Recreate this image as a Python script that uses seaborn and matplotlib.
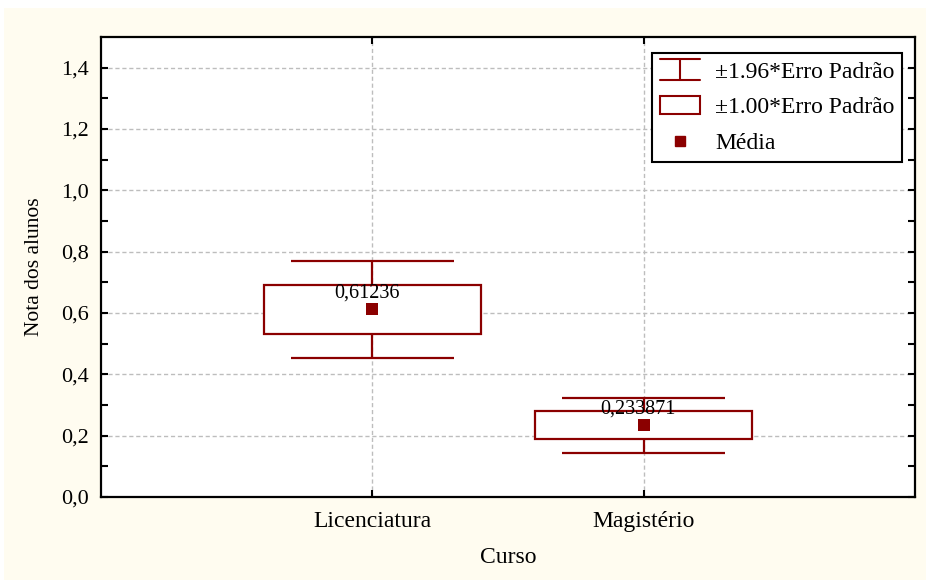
import numpy as np
import pandas as pd
import matplotlib
matplotlib.use("Agg")
import matplotlib.pyplot as plt
from matplotlib.patches import Rectangle
from matplotlib.lines import Line2D
from matplotlib.legend_handler import HandlerBase
import seaborn as sns

# Mean grade per course and its standard error
cursos = ["Licenciatura", "Magistério"]
medias = [0.61236, 0.233871]
erros_padrao = [0.0805, 0.0455]
rotulos_medias = ["0,61236", "0,233871"]
yticks = [0.0, 0.2, 0.4, 0.6, 0.8, 1.0, 1.2, 1.4]
ytick_labels = ["0,0", "0,2", "0,4", "0,6", "0,8", "1,0", "1,2", "1,4"]

df = pd.DataFrame({"Curso": cursos, "Media": medias, "EP": erros_padrao})
df["pos"] = np.arange(len(df))
df["lo1"] = df["Media"] - df["EP"]
df["hi1"] = df["Media"] + df["EP"]
df["lo196"] = df["Media"] - 1.96 * df["EP"]
df["hi196"] = df["Media"] + 1.96 * df["EP"]

RED = "#8B0000"
CREAM = "#FFFCF0"

sns.set_theme(style="white")
plt.rcParams["font.family"] = ["Liberation Serif", "DejaVu Serif"]
plt.rcParams["text.color"] = "black"
plt.rcParams["axes.labelcolor"] = "black"
plt.rcParams["xtick.color"] = "black"
plt.rcParams["ytick.color"] = "black"

fig = plt.figure(figsize=(9.29, 5.83), dpi=100, facecolor="white")
fig.patches.append(Rectangle((4 / 929, 3 / 583), 922 / 929, 572 / 583,
                             transform=fig.transFigure, facecolor=CREAM,
                             edgecolor="none", zorder=-10))
ax = fig.add_axes([101 / 929, 1 - 497 / 583, 814 / 929, 460 / 583])
ax.set_facecolor("white")

# whiskers: +-1.96 SE
ax.vlines(df["pos"], df["lo196"], df["hi196"], color=RED, lw=1.6, zorder=2)
ax.hlines(df["lo196"], df["pos"] - 0.3, df["pos"] + 0.3, color=RED, lw=1.6, zorder=2)
ax.hlines(df["hi196"], df["pos"] - 0.3, df["pos"] + 0.3, color=RED, lw=1.6, zorder=2)

# boxes: +-1.00 SE
ax.bar(df["pos"], 2 * df["EP"], bottom=df["lo1"], width=0.8,
       facecolor="white", edgecolor=RED, linewidth=1.6, zorder=3)

# means
sns.scatterplot(data=df, x="pos", y="Media", marker="s", s=70, color=RED,
                edgecolor=RED, linewidth=0, zorder=4, ax=ax, legend=False)

for p, m, lab in zip(df["pos"], df["Media"], rotulos_medias):
    ax.annotate(lab, xy=(p, m), xytext=(-4, 8.5), textcoords="offset points",
                ha="center", va="baseline", fontsize=14.5, color="black", zorder=5)

ax.set_xlim(-1, 2)
ax.set_ylim(0, 1.5)
ax.set_xticks(df["pos"])
ax.set_xticklabels(cursos, fontsize=17)
ax.set_yticks(yticks)
ax.set_yticklabels(ytick_labels, fontsize=16)
ax.set_yticks(np.arange(0.1, 1.5, 0.2), minor=True)
ax.tick_params(axis="both", which="both", direction="in", length=5, width=1.5,
               color="black", top=True, right=True, left=True, bottom=True)
ax.tick_params(axis="x", which="major", pad=10)
ax.tick_params(axis="y", which="major", pad=9)
ax.grid(True, which="major", color="#bdbdbd", linestyle=(0, (3, 2)), lw=1.0)
ax.set_axisbelow(True)
for s in ax.spines.values():
    s.set_color("black")
    s.set_linewidth(1.6)
    s.set_visible(True)

ax.set_xlabel("Curso", fontsize=17, labelpad=11)
ax.set_ylabel("Nota dos alunos", fontsize=15.5, labelpad=12)


class ErrorBarHandler(HandlerBase):
    def create_artists(self, legend, orig_handle, xdescent, ydescent,
                       width, height, fontsize, trans):
        cx = width / 2 - xdescent
        y0, y1 = -ydescent - 1, height - ydescent + 1
        lines = [
            Line2D([cx, cx], [y0, y1]),
            Line2D([-xdescent, width - xdescent], [y0, y0]),
            Line2D([-xdescent, width - xdescent], [y1, y1]),
        ]
        for ln in lines:
            ln.set_color(RED)
            ln.set_linewidth(1.5)
            ln.set_transform(trans)
        return lines


class BoxHandler(HandlerBase):
    def create_artists(self, legend, orig_handle, xdescent, ydescent,
                       width, height, fontsize, trans):
        r = Rectangle((-xdescent, -ydescent), width, height,
                      facecolor="white", edgecolor=RED, linewidth=1.5,
                      transform=trans)
        return [r]


h_err = Line2D([], [], color=RED)
h_box = Rectangle((0, 0), 1, 1)
h_mean = Line2D([], [], marker="s", color=RED, linestyle="none", markersize=7)

leg = ax.legend([h_err, h_box, h_mean],
                ["±1.96*Erro Padrão", "±1.00*Erro Padrão", "Média"],
                handler_map={h_err: ErrorBarHandler(), h_box: BoxHandler()},
                loc="upper right", bbox_to_anchor=((902 - 101) / 814, (497 - 53) / 460),
                borderaxespad=0, fontsize=17, frameon=True, fancybox=False,
                handlelength=1.7, handleheight=0.8, handletextpad=0.65,
                labelspacing=0.57, borderpad=0.32)
leg.get_frame().set_edgecolor("black")
leg.get_frame().set_linewidth(1.5)
leg.get_frame().set_facecolor("white")
leg.get_frame().set_alpha(1)

fig.savefig("out.png", dpi=100, facecolor=fig.get_facecolor())
